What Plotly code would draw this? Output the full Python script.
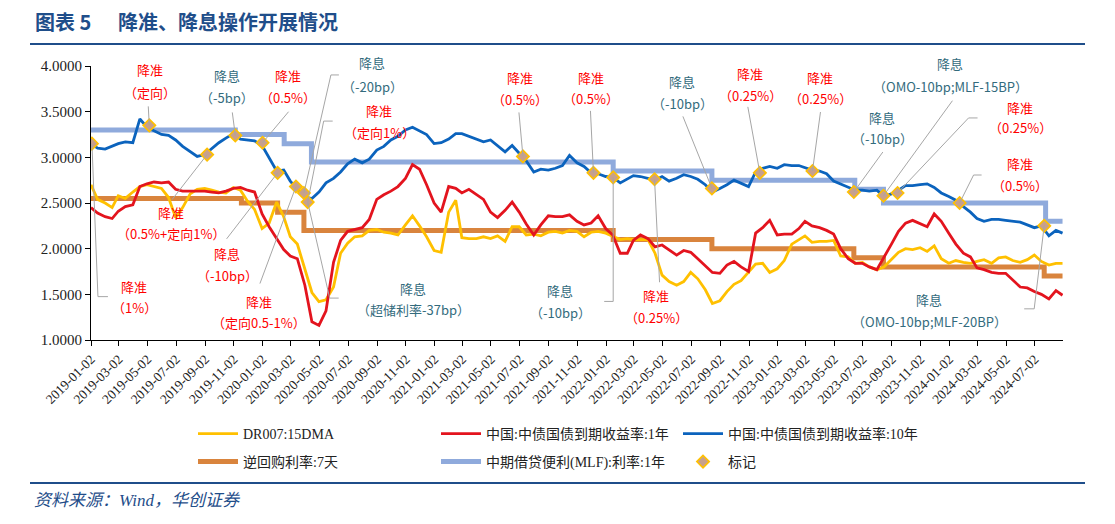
import plotly.graph_objects as go

# ---------------- data ----------------
sample_dates = (["2019-01-02"]
                + [f"{y}-{m:02d}-{d:02d}" for y in range(2019, 2025)
                   for m in range(1, 13) for d in (1, 16)][1:136]
                + ["2024-08-30"])

dr007_15dma = [
    2.70, 2.54, 2.50, 2.45, 2.58, 2.55, 2.62, 2.68, 2.70, 2.68,
    2.66, 2.56, 2.34, 2.45, 2.60, 2.65, 2.66, 2.64, 2.62, 2.61,
    2.67, 2.64, 2.52, 2.43, 2.22, 2.28, 2.51, 2.35, 2.13, 2.05,
    1.77, 1.52, 1.42, 1.44, 1.58, 1.95, 2.06, 2.13, 2.14, 2.20,
    2.21, 2.18, 2.17, 2.15, 2.26, 2.36, 2.25, 2.13, 1.98, 1.96,
    2.40, 2.53, 2.12, 2.11, 2.11, 2.13, 2.11, 2.14, 2.08, 2.24,
    2.24, 2.15, 2.16, 2.14, 2.18, 2.19, 2.17, 2.20, 2.19, 2.13,
    2.18, 2.19, 2.17, 2.14, 2.10, 2.11, 2.10, 2.10, 2.10, 1.95,
    1.71, 1.64, 1.60, 1.64, 1.74, 1.67, 1.55, 1.40, 1.43, 1.53,
    1.61, 1.65, 1.74, 1.83, 1.84, 1.74, 1.78, 1.87, 2.05, 2.10,
    2.14, 2.07, 2.08, 2.08, 2.09, 1.92, 1.91, 1.84, 1.85, 1.80,
    1.77, 1.80, 1.88, 1.96, 2.00, 1.99, 2.01, 1.97, 2.03, 1.89,
    1.84, 1.87, 1.85, 1.84, 1.86, 1.88, 1.84, 1.90, 1.91, 1.87,
    1.85, 1.88, 1.93, 1.86, 1.82, 1.84,
    1.84,
]

cgb_1y = [
    2.45, 2.39, 2.35, 2.33, 2.41, 2.46, 2.48, 2.68, 2.71, 2.73,
    2.72, 2.73, 2.65, 2.63, 2.63, 2.63, 2.63, 2.62, 2.61, 2.63,
    2.66, 2.67, 2.64, 2.62, 2.38, 2.24, 2.11, 1.99, 1.92, 1.89,
    1.60, 1.20, 1.16, 1.32, 1.85, 2.09, 2.19, 2.21, 2.23, 2.32,
    2.54, 2.59, 2.63, 2.68, 2.77, 2.92, 2.87, 2.70, 2.50, 2.40,
    2.68, 2.66, 2.61, 2.65, 2.59, 2.54, 2.40, 2.34, 2.42, 2.51,
    2.40, 2.27, 2.15, 2.26, 2.36, 2.35, 2.35, 2.37, 2.30, 2.26,
    2.28, 2.36, 2.22, 2.15, 1.95, 1.95, 2.09, 2.15, 2.11, 2.02,
    2.04, 1.99, 1.93, 1.98, 1.96, 1.89, 1.81, 1.74, 1.73, 1.82,
    1.86, 1.80, 1.75, 2.17, 2.23, 2.31, 2.15, 2.16, 2.16, 2.22,
    2.30, 2.25, 2.23, 2.20, 2.16, 2.00, 1.89, 1.84, 1.84, 1.80,
    1.77, 1.90, 2.05, 2.19, 2.28, 2.31, 2.27, 2.24, 2.38, 2.30,
    2.17, 2.05, 1.95, 1.91, 1.79, 1.77, 1.74, 1.73, 1.73, 1.66,
    1.58, 1.57, 1.53, 1.50, 1.45, 1.54,
    1.49,
]

cgb_10y = [
    3.15, 3.10, 3.09, 3.12, 3.15, 3.17, 3.16, 3.42, 3.33, 3.29,
    3.25, 3.24, 3.19, 3.12, 3.06, 3.01, 3.03, 3.10, 3.16, 3.21,
    3.26, 3.20, 3.19, 3.18, 3.13, 3.00, 2.85, 2.86, 2.74, 2.65,
    2.56, 2.55, 2.62, 2.72, 2.77, 2.84, 2.93, 2.98, 2.94, 2.98,
    3.08, 3.12, 3.19, 3.23, 3.30, 3.33, 3.29, 3.25, 3.15, 3.16,
    3.20, 3.26, 3.26, 3.23, 3.20, 3.17, 3.19, 3.13, 3.06, 3.13,
    3.05, 2.96, 2.84, 2.87, 2.86, 2.88, 2.91, 3.02, 2.94, 2.90,
    2.83, 2.82, 2.79, 2.78, 2.72, 2.76, 2.80, 2.79, 2.77, 2.75,
    2.79, 2.74, 2.77, 2.81, 2.79, 2.76, 2.70, 2.62, 2.66, 2.70,
    2.75, 2.72, 2.68, 2.84, 2.88, 2.90, 2.88, 2.92, 2.91, 2.91,
    2.89, 2.86, 2.85, 2.82, 2.74, 2.71, 2.67, 2.64, 2.64, 2.63,
    2.64, 2.57, 2.60, 2.64, 2.69, 2.69, 2.70, 2.71, 2.67, 2.61,
    2.57, 2.53, 2.46, 2.40, 2.33, 2.30, 2.32, 2.32, 2.31, 2.30,
    2.29, 2.26, 2.23, 2.25, 2.14, 2.20,
    2.17,
]

repo_dates = ["2019-01-02", "2019-11-18", "2020-02-03", "2020-03-30", "2022-01-17",
              "2022-08-15", "2023-06-13", "2023-08-15", "2024-07-22", "2024-08-30"]
repo_7d = [2.55, 2.50, 2.40, 2.20, 2.10, 2.00, 1.90, 1.80, 1.70, 1.70]

mlf_dates = ["2019-01-02", "2019-11-05", "2020-02-17", "2020-04-15", "2022-01-17",
             "2022-08-15", "2023-06-15", "2023-08-15", "2024-07-25", "2024-08-30"]
mlf_1y = [3.30, 3.25, 3.15, 2.95, 2.85, 2.75, 2.65, 2.50, 2.30, 2.30]

mark_dates = ["2019-01-04", "2019-05-06", "2019-09-06", "2019-11-05", "2020-01-02",
              "2020-02-03", "2020-03-13", "2020-03-30", "2020-04-07", "2021-07-09",
              "2021-12-06", "2022-01-17", "2022-04-15", "2022-08-15", "2022-11-25",
              "2023-03-17", "2023-06-13", "2023-08-15", "2023-09-14", "2024-01-24",
              "2024-07-22"]
mark_values = [3.15, 3.35, 3.03, 3.24, 3.16, 2.83, 2.68, 2.61, 2.51, 3.01,
               2.83, 2.78, 2.76, 2.66, 2.83, 2.85, 2.62, 2.58, 2.61, 2.50, 2.25]

y_ticks = [1.0, 1.5, 2.0, 2.5, 3.0, 3.5, 4.0]

RED = "#FF0000"
TEAL = "#336B7D"
# (line 1, line 2, colour, centre x px, line-1 y px, line-2 y px)  -- window pixels
labels = [
    ("降准", "（定向）", RED, 150, 70, 92),
    ("降息", "（-5bp）", TEAL, 227, 76, 97),
    ("降准", "（0.5%）", RED, 288, 76, 97),
    ("降息", "（-20bp）", TEAL, 372, 63, 86),
    ("降准", "（定向1%）", RED, 379, 110, 132),
    ("降准", "（0.5%）", RED, 520, 78, 100),
    ("降准", "（0.5%）", RED, 591, 77, 98),
    ("降息", "（-10bp）", TEAL, 682, 81, 103),
    ("降准", "（0.25%）", RED, 750, 73, 95),
    ("降准", "（0.25%）", RED, 820, 77, 98),
    ("降息", "（-10bp）", TEAL, 882, 117, 138),
    ("降息", "（OMO-10bp;MLF-15BP）", TEAL, 950, 64, 86),
    ("降准", "（0.25%）", RED, 1020, 107, 128),
    ("降准", "（0.5%）", RED, 1020, 163, 185),
    ("降准", "（0.5%+定向1%）", RED, 171, 212, 233),
    ("降息", "（-10bp）", RED, 227, 253, 275),
    ("降准", "（1%）", RED, 134, 286, 307),
    ("降准", "（定向0.5-1%）", RED, 259, 301, 322),
    ("降息", "（超储利率-37bp）", TEAL, 413, 288, 309),
    ("降息", "（-10bp）", TEAL, 560, 290, 312),
    ("降准", "（0.25%）", RED, 656, 295, 317),
    ("降息", "（OMO-10bp;MLF-20BP）", TEAL, 929, 299, 321),
]

# leader lines: marker index, pixel offsets (right, up) from the marker
leaders = [
    (0, [(6, -153), (16, -153)]),
    (1, [(-1, 19)]),
    (2, [(-35, -45)]),
    (3, [(-3, 23)]),
    (4, [(26, 31)]),
    (5, [(-51, -66)]),
    (6, [(-36, -97)]),
    (7, [(27, 118), (35, 118)]),
    (8, [(16, 81), (25, 81)]),
    (8, [(22, -96), (31, -96)]),
    (9, [(-4, 44)]),
    (10, [(-3, 62)]),
    (11, [(0, -124), (-9, -124)]),
    (12, [(5, -103)]),
    (13, [(-29, 72)]),
    (14, [(-12, 66)]),
    (15, [(8, 59)]),
    (16, [(29, 40)]),
    (17, [(69, 95)]),
    (18, [(71, 75), (80, 75)]),
    (19, [(14, 28), (22, 28)]),
    (20, [(-10, -83), (-20, -83)]),
]

# ---------------- layout geometry ----------------
# The page body has an 8px margin, so the figure is drawn 8px smaller and all
# positions below are given in window pixels of the 1115x524 view.
OFF = 8
WIN_W, WIN_H = 1115, 524
PLOT_L, PLOT_R, PLOT_T, PLOT_B = 91, 1063, 66, 340
W, H = WIN_W - OFF, WIN_H - OFF
ML, MT = PLOT_L - OFF, PLOT_T - OFF
MR, MB = WIN_W - PLOT_R, WIN_H - PLOT_B
PW, PH = PLOT_R - PLOT_L, PLOT_B - PLOT_T


def px(x):
    return (x - PLOT_L) / PW


def py(y):
    return (PLOT_B - y) / PH


SERIF = "Liberation Serif, Noto Sans CJK SC"
CJK = "Noto Sans CJK SC"
NAVY = "#1F4E8A"

fig = go.Figure()

fig.add_trace(go.Scatter(x=mlf_dates, y=mlf_1y, mode="lines", name="中期借贷便利(MLF):利率:1年",
                         line=dict(color="#8FAADC", width=5, shape="hv"), legend="legend5"))
fig.add_trace(go.Scatter(x=repo_dates, y=repo_7d, mode="lines", name="逆回购利率:7天",
                         line=dict(color="#D9843D", width=5, shape="hv"), legend="legend4"))
fig.add_trace(go.Scatter(x=sample_dates, y=dr007_15dma, mode="lines", name="DR007:15DMA",
                         line=dict(color="#FFC000", width=2.8), legend="legend"))
fig.add_trace(go.Scatter(x=sample_dates, y=cgb_1y, mode="lines", name="中国:中债国债到期收益率:1年",
                         line=dict(color="#E3141E", width=2.8), legend="legend2"))
fig.add_trace(go.Scatter(x=sample_dates, y=cgb_10y, mode="lines", name="中国:中债国债到期收益率:10年",
                         line=dict(color="#0B63BD", width=2.8), legend="legend3"))

for li, pts in leaders:
    path = "M0,0 " + " ".join(f"L{dx},{dy}" for dx, dy in pts)
    fig.add_shape(type="path", xref="x", yref="y", xsizemode="pixel", ysizemode="pixel",
                  xanchor=mark_dates[li], yanchor=mark_values[li], path=path,
                  line=dict(color="#A6A6A6", width=1), layer="above")

fig.add_trace(go.Scatter(x=mark_dates, y=mark_values, mode="markers", name="标记",
                         marker=dict(symbol="diamond", size=9.5, color="#C8A08C",
                                     line=dict(color="#FFC000", width=1.6)),
                         legend="legend6"))

ann = []
for l1, l2, col, cx, y1, y2 in labels:
    for txt, yy in ((l1, y1), (l2, y2)):
        ann.append(dict(text=txt, x=px(cx), y=py(yy), xref="paper", yref="paper",
                        xanchor="center", yanchor="middle", showarrow=False,
                        font=dict(family=CJK, size=13, color=col)))

ann.append(dict(text="<b>图表 5</b>", x=px(33), y=py(22), xref="paper", yref="paper",
                xanchor="left", yanchor="middle", showarrow=False,
                font=dict(family=CJK, size=20, color=NAVY)))
ann.append(dict(text="<b>降准、降息操作开展情况</b>", x=px(116), y=py(22), xref="paper", yref="paper",
                xanchor="left", yanchor="middle", showarrow=False,
                font=dict(family=CJK, size=20, color=NAVY)))
ann.append(dict(text="<i>资料来源：Wind，华创证券</i>", x=px(32), y=py(500), xref="paper", yref="paper",
                xanchor="left", yanchor="middle", showarrow=False,
                font=dict(family="Liberation Serif, Noto Sans CJK SC", size=17, color=NAVY)))

for yy in (44, 483):
    fig.add_shape(type="line", xref="paper", yref="paper", x0=px(30), x1=px(1085),
                  y0=py(yy), y1=py(yy), line=dict(color=NAVY, width=2))


def leg(xpx, ypx):
    return dict(x=px(xpx), y=py(ypx), xanchor="left", yanchor="middle", orientation="h",
                bgcolor="rgba(0,0,0,0)", borderwidth=0, itemwidth=40,
                font=dict(family=SERIF, size=14, color="#222222"))


fig.update_layout(
    width=W, height=H,
    margin=dict(l=ML, r=MR, t=MT, b=MB, autoexpand=False),
    paper_bgcolor="white", plot_bgcolor="white",
    showlegend=True,
    legend=leg(193, 434), legend2=leg(436, 434), legend3=leg(678, 434),
    legend4=leg(193, 462), legend5=leg(436, 462), legend6=leg(678, 462),
    annotations=ann,
    xaxis=dict(type="date", range=["2019-01-02", "2024-08-31"], tick0="2019-01-02", dtick="M2",
               tickformat="%Y-%m-%d", tickangle=-45, showline=True, linecolor="black", linewidth=1,
               ticks="outside", ticklen=5, tickcolor="black", showgrid=False, zeroline=False,
               tickfont=dict(family=SERIF, size=13.5, color="#222222")),
    yaxis=dict(range=[1, 4], tickvals=y_ticks, tickformat=".4f", showline=True, linecolor="black",
               linewidth=1, ticks="outside", ticklen=5, tickcolor="black", showgrid=False,
               zeroline=False, tickfont=dict(family=SERIF, size=15, color="#222222")),
)

fig.write_html("out.html")
